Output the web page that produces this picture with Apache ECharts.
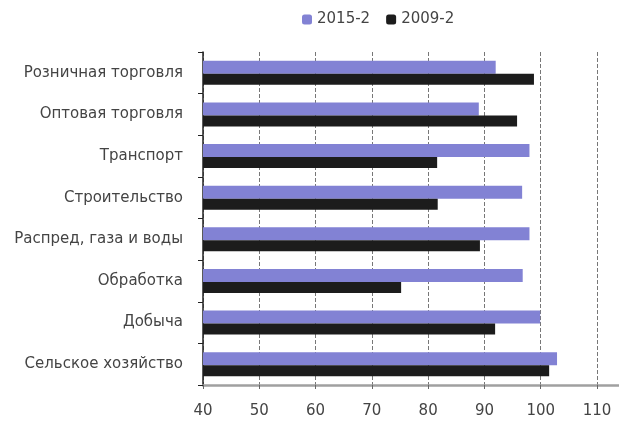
<!DOCTYPE html>
<html><head><meta charset="utf-8">
<script src="https://cdn.jsdelivr.net/npm/echarts@6/dist/echarts.min.js"></script>
<style>html,body{margin:0;padding:0;background:#fff}#c{width:619px;height:421px}</style>
</head><body><div id="c"></div>
<script>
const categories = ['Розничная торговля','Оптовая торговля','Транспорт','Строительство','Распред, газа и воды','Обработка','Добыча','Сельское хозяйство'];
const s2015 = [92, 89, 98, 96.7, 98, 96.8, 99.9, 102.9];
const s2009 = [98.8, 95.8, 81.6, 81.7, 89.2, 75.2, 91.9, 101.5];
const seriesNames = ['2015-2','2009-2'];
const xTicks = [40,50,60,70,80,90,100,110];

const font = 'DejaVu Sans, sans-serif';
const chart = echarts.init(document.getElementById('c'));
chart.setOption({
  animation:false,
  textStyle:{fontFamily:font},
  legend:{top:7,left:297,itemWidth:10,itemHeight:10,itemGap:16,textStyle:{fontSize:15,color:'#444',fontFamily:font},data:seriesNames},
  grid:[
    {left:203,right:22,top:52,bottom:36},
    {left:203,right:0,top:52,bottom:36}
  ],
  xAxis:[
    {type:'value',gridIndex:0,min:xTicks[0],max:xTicks[xTicks.length-1],interval:10,
      axisLine:{show:false},
      axisTick:{show:true,length:4,lineStyle:{color:'#666'}},
      axisLabel:{fontSize:15,color:'#444',margin:19,fontFamily:font},
      splitLine:{show:true,lineStyle:{color:'#777',type:'dashed',width:1}}},
    {type:'value',gridIndex:1,min:0,max:1,
      axisLine:{show:true,lineStyle:{color:'#a0a0a0',width:2.5}},
      axisTick:{show:false},axisLabel:{show:false},splitLine:{show:false}}
  ],
  yAxis:[
    {type:'category',gridIndex:0,data:categories,inverse:true,
      axisLine:{lineStyle:{color:'#222',width:1.5}},
      axisTick:{show:true,length:5,lineStyle:{color:'#222'}},
      axisLabel:{fontSize:15,color:'#444',margin:20,fontFamily:font}},
    {type:'category',gridIndex:1,data:categories,show:false}
  ],
  series:[
    {name:seriesNames[0],type:'bar',data:s2015,barWidth:13,barGap:'0%',itemStyle:{color:'#8282d4'}},
    {name:seriesNames[1],type:'bar',data:s2009,barWidth:11,barGap:'0%',itemStyle:{color:'#1c1c1c'}}
  ]
});
</script></body></html>
